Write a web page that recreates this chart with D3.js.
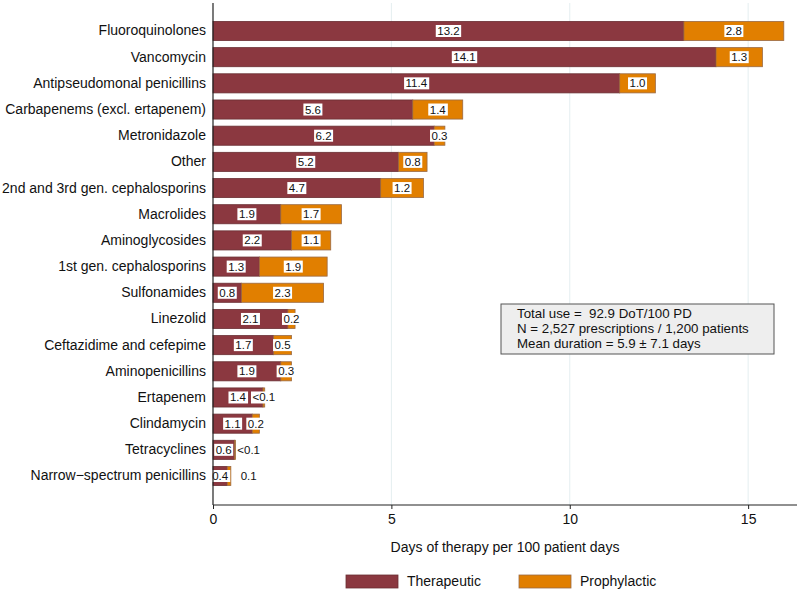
<!DOCTYPE html>
<html><head><meta charset="utf-8">
<script src="https://cdn.jsdelivr.net/npm/d3@7"></script>
<style>body{margin:0;background:#fff}svg{display:block;font-family:"Liberation Sans",Arial,Helvetica,sans-serif}</style>
</head><body><svg id="c" width="800" height="591"></svg>
<script>
const categories = ["Fluoroquinolones","Vancomycin","Antipseudomonal penicillins","Carbapenems (excl. ertapenem)","Metronidazole","Other","2nd and 3rd gen. cephalosporins","Macrolides","Aminoglycosides","1st gen. cephalosporins","Sulfonamides","Linezolid","Ceftazidime and cefepime","Aminopenicillins","Ertapenem","Clindamycin","Tetracyclines","Narrow\u2212spectrum penicillins"];
const therapeutic = [13.2,14.1,11.4,5.6,6.2,5.2,4.7,1.9,2.2,1.3,0.8,2.1,1.7,1.9,1.4,1.1,0.6,0.4];
const prophylactic = [2.8,1.3,1.0,1.4,0.3,0.8,1.2,1.7,1.1,1.9,2.3,0.2,0.5,0.3,0.05,0.2,0.03,0.1];
const therapLabels = ["13.2","14.1","11.4","5.6","6.2","5.2","4.7","1.9","2.2","1.3","0.8","2.1","1.7","1.9","1.4","1.1","0.6","0.4"];
const prophLabels = ["2.8","1.3","1.0","1.4","0.3","0.8","1.2","1.7","1.1","1.9","2.3","0.2","0.5","0.3","<0.1","0.2","<0.1","0.1"];
const xTicks = [0,5,10,15];
const seriesNames = ["Therapeutic","Prophylactic"];
const colors = ["#8b3840","#e17f00"];
const noteLines = ["Total use =  92.9 DoT/100 PD","N = 2,527 prescriptions / 1,200 patients","Mean duration = 5.9 \u00b1 7.1 days"];
const xTitle = "Days of therapy per 100 patient days";

(function(){
const svg = d3.select("#c");
const pL = 213, pR = 797, pT = 3, pB = 505;
const x = d3.scaleLinear().domain([0, 16.37]).range([pL, pR]);
const y = d3.scaleBand().domain(categories).range([17.9, 489.1]).paddingInner(0.27).paddingOuter(0.135);

// gridlines
svg.append("g").selectAll("line").data(xTicks.filter(t=>t>0)).join("line")
  .attr("x1", d=>x(d)).attr("x2", d=>x(d)).attr("y1", pT).attr("y2", pB)
  .attr("stroke", "#e4eef0").attr("stroke-width", 1);

const rows = categories.map((c,i)=>({c, t: therapeutic[i], p: prophylactic[i], tl: therapLabels[i], pl: prophLabels[i]}));

// bars
const g = svg.append("g");
g.selectAll("rect.t").data(rows).join("rect").attr("class","t")
  .attr("x", x(0)).attr("y", d=>y(d.c)).attr("width", d=>x(d.t)-x(0)).attr("height", y.bandwidth())
  .attr("fill", colors[0]).attr("stroke", "#6a2f33").attr("stroke-width", 0.8);
g.selectAll("rect.p").data(rows).join("rect").attr("class","p")
  .attr("x", d=>x(d.t)).attr("y", d=>y(d.c)).attr("width", d=>x(d.t+d.p)-x(d.t)).attr("height", y.bandwidth())
  .attr("fill", colors[1]).attr("stroke", "#9a6a45").attr("stroke-width", 0.8);

// value labels
const fs = 11.5;
function boxLabel(sel, text, cx, cy, box) {
  const t = sel.append("text").attr("x", cx).attr("y", cy).attr("text-anchor","middle")
    .attr("dominant-baseline","central").attr("font-size", fs).attr("fill","#111").text(text);
  const bb = t.node().getBBox();
  if (box) {
    sel.insert("rect", "text").attr("x", bb.x-1.5).attr("y", cy-6).attr("width", bb.width+3).attr("height", 12)
      .attr("fill","#fff");
  }
  return bb;
}
const lab = svg.append("g");
rows.forEach(d=>{
  const cy = y(d.c) + y.bandwidth()/2;
  const gg1 = lab.append("g");
  const bb1 = boxLabel(gg1, d.tl, x(d.t/2), cy, true);
  const gg2 = lab.append("g");
  let cx = x(d.t + d.p/2);
  const tmp = gg2.append("text").attr("font-size", fs).text(d.pl);
  const w = tmp.node().getBBox().width; tmp.remove();
  let box = true;
  if (cx - w/2 - 1.5 < bb1.x + bb1.width + 1.5) { cx = x(1.0); box = false; }
  boxLabel(gg2, d.pl, cx, cy, box);
});

// axes
svg.append("line").attr("x1", pL).attr("x2", pL).attr("y1", pT).attr("y2", pB).attr("stroke","#222").attr("stroke-width",1.2);
svg.append("line").attr("x1", pL).attr("x2", pR).attr("y1", pB).attr("y2", pB).attr("stroke","#222").attr("stroke-width",1.2);
const xa = svg.append("g").attr("transform", `translate(0,${pB})`)
  .call(d3.axisBottom(x).tickValues(xTicks).tickSize(4).tickPadding(5).tickFormat(d3.format("d")));
xa.select(".domain").remove();
xa.selectAll("line").attr("stroke","#222");
xa.selectAll("text").attr("font-size",14).attr("fill","#111").attr("font-family","Liberation Sans, Arial, sans-serif");

const ya = svg.append("g").attr("transform", `translate(${pL},0)`)
  .call(d3.axisLeft(y).tickSize(0).tickPadding(7));
ya.select(".domain").remove();
ya.selectAll("text").attr("font-size",14).attr("fill","#111").attr("font-family","Liberation Sans, Arial, sans-serif");

// axis title
svg.append("text").attr("x", (pL+pR)/2).attr("y", 552).attr("text-anchor","middle")
  .attr("font-size",14).attr("fill","#111").text(xTitle);

// note box
const note = svg.append("g");
note.append("rect").attr("x",501).attr("y",304).attr("width",273).attr("height",50)
  .attr("fill","#eeeeee").attr("stroke","#555").attr("stroke-width",1);
note.selectAll("text").data(noteLines).join("text")
  .attr("x",517).attr("y",(d,i)=>318+i*15).attr("font-size",13.3).attr("fill","#111")
  .style("white-space","pre").text(d=>d);

// legend
const leg = svg.append("g");
const legX = [346, 519];
seriesNames.forEach((n,i)=>{
  leg.append("rect").attr("x", legX[i]).attr("y", 575).attr("width", 52).attr("height", 13)
    .attr("fill", colors[i]).attr("stroke", i===0 ? "#6a2f33" : "#9a6a45").attr("stroke-width",0.8);
  leg.append("text").attr("x", legX[i]+61).attr("y", 586).attr("font-size",14).attr("fill","#111").text(n);
});
})();
</script></body></html>
